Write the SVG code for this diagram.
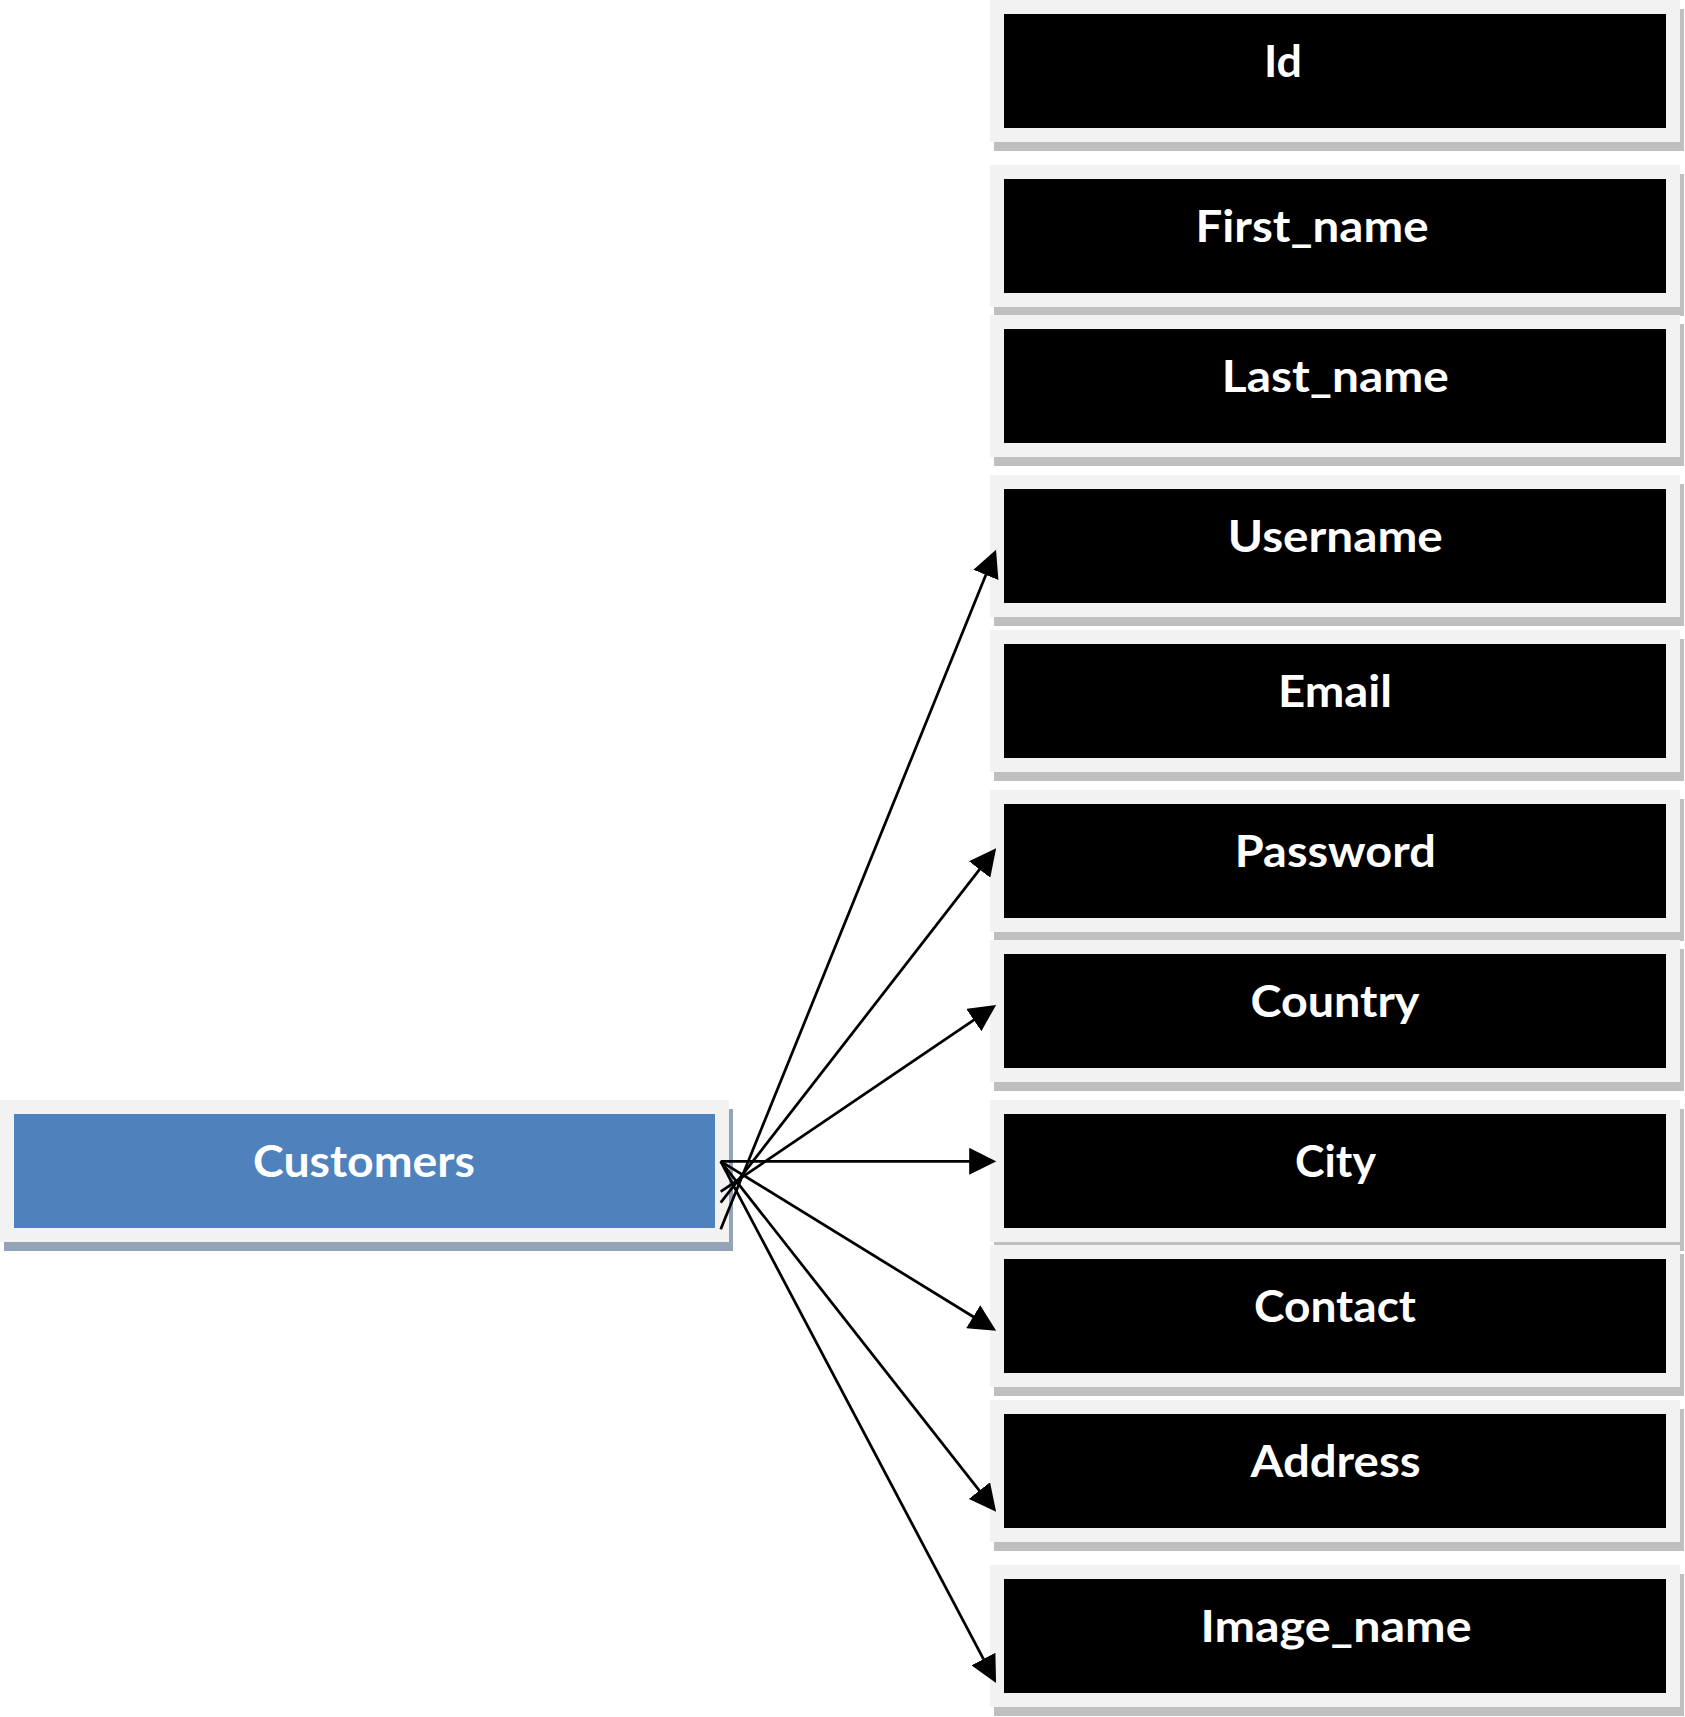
<svg xmlns="http://www.w3.org/2000/svg" width="1685" height="1717" viewBox="0 0 1685 1717">
  <style>
    .outer { fill: #f2f2f2; }
    .shadow { fill: #bfbfbf; }
    .inner { fill: #000000; }
    .bshadow { fill: #95a3b6; }
    .binner { fill: #4f81bd; }
    .lbl { fill: #ffffff; font-family: Lato, "Open Sans", "Liberation Sans", sans-serif; font-weight: bold; font-size: 44px; text-anchor: middle; }
    .conn { stroke: #000000; stroke-width: 2.75; fill: none; marker-end: url(#arrow); }
  </style>
  <defs>
    <marker id="arrow" markerUnits="userSpaceOnUse" markerWidth="27" markerHeight="27" refX="16.5" refY="13.25" orient="auto" viewBox="0 0 26.5 26.5">
      <path d="M0,0 L26.5,13.25 L0,26.5 Z" fill="#000000"/>
    </marker>
  </defs>
  <rect width="1685" height="1717" fill="#ffffff"/>

  <g id="node-id">
    <rect class="shadow" x="994" y="9" width="690" height="142"/>
    <rect class="outer" x="990" y="0" width="690" height="142"/>
    <rect class="inner" x="1004" y="14" width="662" height="114"/>
    <text class="lbl" x="1283" y="76.7" textLength="38" lengthAdjust="spacingAndGlyphs">Id</text>
  </g>
  <g id="node-first-name">
    <rect class="shadow" x="994" y="174" width="690" height="142"/>
    <rect class="outer" x="990" y="165" width="690" height="142"/>
    <rect class="inner" x="1004" y="179" width="662" height="114"/>
    <text class="lbl" x="1312" y="241.7" textLength="233" lengthAdjust="spacingAndGlyphs">First_name</text>
  </g>
  <g id="node-last-name">
    <rect class="shadow" x="994" y="324" width="690" height="142"/>
    <rect class="outer" x="990" y="315" width="690" height="142"/>
    <rect class="inner" x="1004" y="329" width="662" height="114"/>
    <text class="lbl" x="1335.3" y="391.5" textLength="227" lengthAdjust="spacingAndGlyphs">Last_name</text>
  </g>
  <g id="node-username">
    <rect class="shadow" x="994" y="484" width="690" height="142"/>
    <rect class="outer" x="990" y="475" width="690" height="142"/>
    <rect class="inner" x="1004" y="489" width="662" height="114"/>
    <text class="lbl" x="1335.3" y="551.7" textLength="215" lengthAdjust="spacingAndGlyphs">Username</text>
  </g>
  <g id="node-email">
    <rect class="shadow" x="994" y="639" width="690" height="142"/>
    <rect class="outer" x="990" y="630" width="690" height="142"/>
    <rect class="inner" x="1004" y="644" width="662" height="114"/>
    <text class="lbl" x="1335" y="706.7" textLength="114" lengthAdjust="spacingAndGlyphs">Email</text>
  </g>
  <g id="node-password">
    <rect class="shadow" x="994" y="799" width="690" height="142"/>
    <rect class="outer" x="990" y="790" width="690" height="142"/>
    <rect class="inner" x="1004" y="804" width="662" height="114"/>
    <text class="lbl" x="1335.3" y="866.7" textLength="201" lengthAdjust="spacingAndGlyphs">Password</text>
  </g>
  <g id="node-country">
    <rect class="shadow" x="994" y="949" width="690" height="142"/>
    <rect class="outer" x="990" y="940" width="690" height="142"/>
    <rect class="inner" x="1004" y="954" width="662" height="114"/>
    <text class="lbl" x="1335" y="1016.7" textLength="169" lengthAdjust="spacingAndGlyphs">Country</text>
  </g>
  <g id="node-city">
    <rect class="shadow" x="994" y="1109" width="690" height="142"/>
    <rect class="outer" x="990" y="1100" width="690" height="142"/>
    <rect class="inner" x="1004" y="1114" width="662" height="114"/>
    <text class="lbl" x="1335.5" y="1176.7" textLength="81" lengthAdjust="spacingAndGlyphs">City</text>
  </g>
  <g id="node-contact">
    <rect class="shadow" x="994" y="1254" width="690" height="142"/>
    <rect class="outer" x="990" y="1245" width="690" height="142"/>
    <rect class="inner" x="1004" y="1259" width="662" height="114"/>
    <text class="lbl" x="1335" y="1321.5" textLength="162" lengthAdjust="spacingAndGlyphs">Contact</text>
  </g>
  <g id="node-address">
    <rect class="shadow" x="994" y="1409" width="690" height="142"/>
    <rect class="outer" x="990" y="1400" width="690" height="142"/>
    <rect class="inner" x="1004" y="1414" width="662" height="114"/>
    <text class="lbl" x="1335.5" y="1476.5" textLength="170" lengthAdjust="spacingAndGlyphs">Address</text>
  </g>
  <g id="node-image-name">
    <rect class="shadow" x="994" y="1574" width="690" height="142"/>
    <rect class="outer" x="990" y="1565" width="690" height="142"/>
    <rect class="inner" x="1004" y="1579" width="662" height="114"/>
    <text class="lbl" x="1336" y="1641.7" textLength="271" lengthAdjust="spacingAndGlyphs">Image_name</text>
  </g>

  <g id="node-customers">
    <rect class="bshadow" x="4" y="1109" width="729" height="142"/>
    <rect class="outer" x="0" y="1100" width="729" height="142"/>
    <rect class="binner" x="14" y="1114" width="701" height="114"/>
    <text class="lbl" x="364" y="1176.7" textLength="222" lengthAdjust="spacingAndGlyphs">Customers</text>
  </g>

  <g id="connectors">
    <line class="conn" x1="720.7" y1="1229.3" x2="992.2" y2="559.3"/>
    <line class="conn" x1="720.7" y1="1202.7" x2="989.9" y2="856.2"/>
    <line class="conn" x1="720.7" y1="1191.7" x2="987.7" y2="1010.6"/>
    <line class="conn" x1="720.7" y1="1161.3" x2="986" y2="1161.3"/>
    <line class="conn" x1="720.7" y1="1161.3" x2="987.5" y2="1325.5"/>
    <line class="conn" x1="720.7" y1="1161.3" x2="989.8" y2="1503.8"/>
    <line class="conn" x1="720.7" y1="1161.3" x2="991.3" y2="1673.9"/>
  </g>
</svg>
